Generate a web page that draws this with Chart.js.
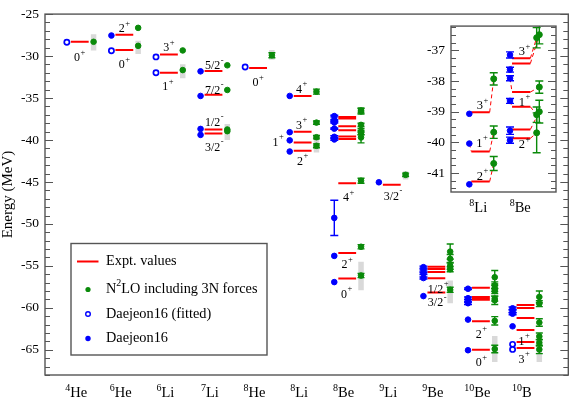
<!DOCTYPE html>
<html><head><meta charset="utf-8">
<script src="https://cdn.jsdelivr.net/npm/chart.js@4.4.1/dist/chart.umd.min.js"></script>
<style>
html,body{margin:0;padding:0;background:#fff;}
#wrap{position:relative;width:574px;height:399px;background:#fff;}
#main{position:absolute;left:0;top:0;}
#inset{position:absolute;left:400px;top:12px;}
</style></head><body>
<div id="wrap"><canvas id="main" width="574" height="399"></canvas><canvas id="inset" width="162" height="212"></canvas></div>
<script>
// ---------------- DATA ----------------
const categories = ['4He','6He','6Li','7Li','8He','8Li','8Be','9Li','9Be','10Be','10B'];
const yTickValues = [-25,-30,-35,-40,-45,-50,-55,-60,-65];
const insetCategories = ['8Li','8Be'];
const insetYTickValues = [-37,-38,-39,-40,-41];

// Experimental levels [nucleus, energy (MeV)]
const exptLevels = [
  ['4He',-28.30],
  ['6He',-27.47],['6He',-29.27],
  ['6Li',-29.80],['6Li',-31.99],
  ['7Li',-31.79],['7Li',-34.61],['7Li',-38.76],['7Li',-39.24],
  ['8He',-31.41],
  ['8Li',-34.75],['8Li',-39.02],['8Li',-40.30],['8Li',-41.28],
  ['8Be',-37.26],['8Be',-37.43],['8Be',-38.36],['8Be',-38.84],['8Be',-39.58],['8Be',-39.87],
  ['8Be',-45.15],['8Be',-53.47],['8Be',-56.50],
  ['9Li',-45.34],
  ['9Be',-55.11],['9Be',-55.38],['9Be',-55.73],['9Be',-56.48],['9Be',-58.16],
  ['10Be',-57.61],['10Be',-58.72],['10Be',-58.80],['10Be',-59.02],['10Be',-61.61],['10Be',-64.98],
  ['10B',-59.65],['10B',-60.02],['10B',-61.20],['10B',-62.65],['10B',-64.06],['10B',-64.78]
];

// N2LO including 3N forces [nucleus, energy, uncertainty]
const n2loLevels = [
  ['4He',-28.30,0],
  ['6He',-26.64,0],['6He',-28.78,0],
  ['6Li',-29.33,0],['6Li',-31.67,0],
  ['7Li',-31.10,0],['7Li',-34.04,0],['7Li',-38.75,0],['7Li',-38.95,0],
  ['8He',-29.90,0.3],
  ['8Li',-34.24,0.3],['8Li',-37.93,0.2],['8Li',-39.67,0.2],['8Li',-40.69,0.23],
  ['8Be',-36.59,0.33],['8Be',-36.49,0.3],['8Be',-38.20,0.2],['8Be',-39.10,0.25],['8Be',-39.00,0.37],['8Be',-39.69,0.65],
  ['8Be',-44.85,0.3],['8Be',-52.72,0.25],['8Be',-56.15,0.25],
  ['9Li',-44.15,0.2],
  ['9Be',-53.30,0.9],['9Be',-54.15,0.5],['9Be',-55.00,0.4],['9Be',-55.40,0.3],['9Be',-57.85,0.3],
  ['10Be',-56.35,0.8],['10Be',-57.30,0.4],['10Be',-57.70,0.35],['10Be',-58.00,0.3],['10Be',-58.90,0.3],['10Be',-59.10,0.5],
  ['10Be',-61.55,0.5],['10Be',-64.90,0.45],
  ['10B',-58.70,0.7],['10B',-59.50,0.35],['10B',-61.75,0.45],['10B',-63.40,0.4],['10B',-64.15,0.4],['10B',-64.95,0.5]
];

// N2LO extrapolation ranges (grey bands) [nucleus, upper, lower]
const n2loRanges = [
  ['4He',-27.40,-29.35],
  ['6He',-28.18,-29.74],
  ['6Li',-30.98,-32.65],
  ['7Li',-38.10,-40.00],
  ['8He',-29.28,-30.44],
  ['8Li',-39.70,-41.50],
  ['8Be',-54.52,-57.90],
  ['9Li',-43.73,-44.70],
  ['9Be',-56.74,-59.46],
  ['10Be',-63.35,-66.46],
  ['10B',-64.90,-66.46]
];

// Daejeon16 (fitted) [nucleus, energy]
const daejeonFittedLevels = [
  ['4He',-28.36],
  ['6He',-29.37],
  ['6Li',-30.10],['6Li',-31.98],
  ['8He',-31.30],
  ['10B',-64.35],['10B',-64.95]
];

// Daejeon16 [nucleus, energy, uncertainty]
const daejeonLevels = [
  ['6He',-27.55,0],
  ['7Li',-31.82,0],['7Li',-34.75,0],['7Li',-38.68,0],['7Li',-39.39,0],
  ['8Li',-34.75,0],['8Li',-39.07,0],['8Li',-40.04,0],['8Li',-41.37,0],
  ['8Be',-37.15,0.1],['8Be',-37.63,0.08],['8Be',-37.91,0.08],['8Be',-38.65,0.08],['8Be',-39.62,0.12],['8Be',-39.93,0.1],
  ['8Be',-49.28,2.1],['8Be',-53.81,0],['8Be',-56.93,0],
  ['9Li',-45.04,0],
  ['9Be',-55.15,0.12],['9Be',-55.50,0.12],['9Be',-55.90,0.12],['9Be',-56.45,0.12],['9Be',-58.60,0],
  ['10Be',-57.72,0.1],['10Be',-58.85,0.15],['10Be',-59.15,0.15],['10Be',-59.45,0.15],['10Be',-61.40,0],['10Be',-65.05,0],
  ['10B',-60.05,0.15],['10B',-60.40,0.15],['10B',-60.70,0.12],['10B',-62.20,0]
];

// State labels [nucleus, x shift, energy anchor, text, superscript]
const stateLabels = [
  ['4He',-0.07,-30.13,'0','+'],
  ['6He',-0.07,-26.71,'2','+'],['6He',-0.07,-30.98,'0','+'],
  ['6Li',-0.07,-28.96,'3','+'],['6Li',-0.09,-33.62,'1','+'],
  ['7Li',-0.03,-31.10,'5/2','-'],['7Li',-0.03,-34.00,'7/2','-'],['7Li',-0.03,-37.82,'1/2','-'],['7Li',-0.03,-40.82,'3/2','-'],
  ['8He',-0.07,-33.12,'0','+'],
  ['8Li',-0.09,-33.90,'4','+'],['8Li',-0.09,-38.17,'3','+'],['8Li',-0.62,-40.23,'1','+'],['8Li',-0.07,-42.48,'2','+'],
  ['8Be',-0.04,-46.83,'4','+'],['8Be',-0.07,-54.80,'2','+'],['8Be',-0.08,-58.30,'0','+'],
  ['9Li',-0.02,-46.64,'3/2','-'],
  ['9Be',-0.03,-57.72,'1/2','+'],['9Be',-0.03,-59.35,'3/2','-'],
  ['10Be',-0.06,-63.08,'2','+'],['10Be',-0.06,-66.46,'0','+'],
  ['10B',-0.10,-63.93,'1','+'],['10B',-0.10,-66.06,'3','+']
];
const insetLabels = [
  ['8Li',0.26,-38.78,'3','+'],['8Li',0.25,-40.01,'1','+'],['8Li',0.26,-41.08,'2','+'],
  ['8Be',0.29,-37.02,'3','+'],['8Be',0.29,-38.68,'1','+'],['8Be',0.29,-40.06,'2','+']
];
const legendItems = ['Expt. values','N2LO including 3N forces','Daejeon16 (fitted)','Daejeon16'];

// ---------------- STYLE / HELPERS ----------------
const FONT = '"Liberation Serif", "Times New Roman", serif';
const GREEN = '#0a8a0a', BLUE = '#0000ff', RED = '#ff0000', BAND = '#d9d9d9', FRAME = '#555';
const INSET_MIN = -41.62, INSET_MAX = -36.21;

const posOf = (list, n) => list.indexOf(n) + 1;
function segs(pieces) {
  const out = [];
  pieces.forEach(pc => { out.push(...pc); out.push({x: pc[0].x, y: null}); });
  return out;
}
const lineDs = (data, color, width, order, dash) => ({
  data, showLine: true, borderColor: color, borderWidth: width, pointRadius: 0,
  spanGaps: false, order, borderDash: dash || [], borderCapStyle: 'butt', fill: false, tension: 0
});
const pointDs = (data, o) => Object.assign({
  data, showLine: false, pointStyle: 'circle', pointRadius: 2.8, pointBorderWidth: 1, order: 1
}, o);

function drawSup(ctx, cx, cy, base, sup, bs, ss, rise) {
  ctx.font = bs + 'px ' + FONT; const wb = ctx.measureText(base).width;
  const x0 = cx - wb / 2, by = cy + bs * 0.33;
  ctx.textAlign = 'left'; ctx.textBaseline = 'alphabetic';
  ctx.fillText(base, x0, by);
  ctx.font = ss + 'px ' + FONT; ctx.fillText(sup, x0 + wb + 0.5, by - rise);
}
function drawPre(ctx, cx, by, sup, base, bs, ss, rise) {
  ctx.font = ss + 'px ' + FONT; const ws = ctx.measureText(sup).width;
  ctx.font = bs + 'px ' + FONT; const wb = ctx.measureText(base).width;
  const x0 = cx - (ws + wb) / 2;
  ctx.textAlign = 'left'; ctx.textBaseline = 'alphabetic';
  ctx.font = ss + 'px ' + FONT; ctx.fillText(sup, x0, by - rise);
  ctx.font = bs + 'px ' + FONT; ctx.fillText(base, x0 + ws, by);
}
const splitNuc = s => { const m = s.match(/^(\d+)(\D+)$/); return [m[1], m[2]]; };

const errorBarPlugin = {
  id: 'errbars',
  beforeDatasetDraw(chart, args) {
    const ds = chart.data.datasets[args.index];
    if (!ds.errors) return;
    const {ctx, chartArea: a} = chart, y = chart.scales.y;
    ctx.save();
    ctx.beginPath(); ctx.rect(a.left, a.top, a.right - a.left, a.bottom - a.top); ctx.clip();
    ctx.strokeStyle = ds.errColor; ctx.lineWidth = 1.4;
    ds.data.forEach((p, i) => {
      const e = ds.errors[i]; if (!e) return;
      const px = args.meta.data[i].x;
      const y1 = y.getPixelForValue(p.y + e), y2 = y.getPixelForValue(p.y - e), h = ds.capHalf;
      ctx.beginPath();
      ctx.moveTo(px, y1); ctx.lineTo(px, y2);
      ctx.moveTo(px - h, y1); ctx.lineTo(px + h, y1);
      ctx.moveTo(px - h, y2); ctx.lineTo(px + h, y2);
      ctx.stroke();
    });
    ctx.restore();
  }
};

const framePlugin = {
  id: 'frame',
  afterDraw(chart, args, o) {
    const {ctx, chartArea: a} = chart, y = chart.scales.y;
    ctx.save();
    ctx.strokeStyle = FRAME; ctx.lineWidth = 1.4;
    ctx.strokeRect(a.left, a.top, a.right - a.left, a.bottom - a.top);
    ctx.lineWidth = 1;
    const k0 = Math.ceil(y.min / o.minor - 1e-9), k1 = Math.floor(y.max / o.minor + 1e-9);
    for (let k = k0; k <= k1; k++) {
      const v = k * o.minor;
      const isMajor = Math.abs(v / o.major - Math.round(v / o.major)) < 1e-6;
      const len = isMajor ? 8 : 5;
      const py = Math.round(y.getPixelForValue(v)) + 0.5;
      ctx.beginPath();
      ctx.moveTo(a.left, py); ctx.lineTo(a.left + len, py);
      ctx.moveTo(a.right, py); ctx.lineTo(a.right - len, py);
      ctx.stroke();
    }
    ctx.restore();
  }
};

// ---------------- MAIN CHART ----------------
const mainBands = segs(n2loRanges.map(([n, hi, lo]) => {
  const p = posOf(categories, n) + 0.3; return [{x: p, y: hi}, {x: p, y: lo}];
}));
const mainExpt = segs(exptLevels.map(([n, e]) => {
  const p = posOf(categories, n); return [{x: p - 0.21, y: e}, {x: p + 0.19, y: e}];
}));
const mainN2lo = n2loLevels.map(([n, e]) => ({x: posOf(categories, n) + 0.3, y: e}));
const mainFitted = daejeonFittedLevels.map(([n, e]) => ({x: posOf(categories, n) - 0.3, y: e}));
const mainDaejeon = daejeonLevels.map(([n, e]) => ({x: posOf(categories, n) - 0.3, y: e}));

const mainText = {
  id: 'mainText',
  afterDraw(chart) {
    const {ctx, chartArea: a} = chart, xs = chart.scales.x, ys = chart.scales.y;
    ctx.save(); ctx.fillStyle = '#000';
    stateLabels.forEach(([n, dx, e, b, s]) => {
      drawSup(ctx, xs.getPixelForValue(posOf(categories, n) + dx), ys.getPixelForValue(e), b, s, 12, 8.5, 6.5);
    });
    categories.forEach((c, i) => {
      const [sup, base] = splitNuc(c);
      drawPre(ctx, xs.getPixelForValue(i + 1 - 0.09), a.bottom + 21.5, sup, base, 14.5, 10, 6);
    });
    // legend
    const L = 71, T = 243.5, W = 196, H = 111.5;
    ctx.fillStyle = '#fff'; ctx.fillRect(L, T, W, H);
    ctx.strokeStyle = FRAME; ctx.lineWidth = 1.4; ctx.strokeRect(L, T, W, H);
    const rows = [261.5, 289.5, 314, 338.5], tx = 106, sx = 88;
    ctx.strokeStyle = RED; ctx.lineWidth = 2;
    ctx.beginPath(); ctx.moveTo(77, rows[0]); ctx.lineTo(98.5, rows[0]); ctx.stroke();
    ctx.fillStyle = GREEN; ctx.beginPath(); ctx.arc(sx, rows[1], 2.6, 0, 2 * Math.PI); ctx.fill();
    ctx.strokeStyle = BLUE; ctx.lineWidth = 1.4; ctx.fillStyle = '#fff';
    ctx.beginPath(); ctx.arc(sx, rows[2], 2.3, 0, 2 * Math.PI); ctx.fill(); ctx.stroke();
    ctx.fillStyle = BLUE; ctx.beginPath(); ctx.arc(sx, rows[3], 2.7, 0, 2 * Math.PI); ctx.fill();
    ctx.fillStyle = '#000'; ctx.textAlign = 'left'; ctx.textBaseline = 'middle';
    const fs = 14.3;
    ctx.font = fs + 'px ' + FONT;
    ctx.fillText(legendItems[0], tx, rows[0]);
    // N^2LO with superscript
    const t1 = legendItems[1];
    ctx.fillText(t1[0], tx, rows[1]);
    const wN = ctx.measureText(t1[0]).width;
    ctx.font = '10px ' + FONT; ctx.fillText(t1[1], tx + wN, rows[1] - 6);
    const w2 = ctx.measureText(t1[1]).width;
    ctx.font = fs + 'px ' + FONT; ctx.fillText(t1.slice(2), tx + wN + w2, rows[1]);
    ctx.fillText(legendItems[2], tx, rows[2]);
    ctx.fillText(legendItems[3], tx, rows[3]);
    ctx.restore();
  }
};

new Chart(document.getElementById('main'), {
  type: 'line',
  data: { datasets: [
    lineDs(mainBands, BAND, 5.5, 10),
    lineDs(mainExpt, RED, 2, 5),
    pointDs(mainN2lo, {backgroundColor: GREEN, borderColor: GREEN, pointRadius: 2.8, order: 3,
      errors: n2loLevels.map(l => l[2]), errColor: GREEN, capHalf: 3.5}),
    pointDs(mainFitted, {backgroundColor: '#fff', borderColor: BLUE, pointRadius: 2.6, pointBorderWidth: 1.7, order: 2}),
    pointDs(mainDaejeon, {backgroundColor: BLUE, borderColor: BLUE, pointRadius: 2.8, order: 1,
      errors: daejeonLevels.map(l => l[2]), errColor: BLUE, capHalf: 4})
  ]},
  options: {
    responsive: false, animation: false, events: [],
    layout: { padding: {left: 0, top: 6, right: 3, bottom: 0} },
    plugins: { legend: {display: false}, tooltip: {enabled: false}, frame: {minor: 1, major: 5} },
    scales: {
      x: { type: 'linear', min: 0.21, max: 11.95, grid: {display: false, drawTicks: false, tickLength: 0},
           border: {display: false}, ticks: {display: false}, afterFit: s => { s.height = 24; } },
      y: { type: 'linear', min: -68, max: -25, grid: {display: false, drawTicks: false, tickLength: 0},
           border: {display: false},
           ticks: {color: '#000', font: {family: FONT, size: 13.5}, padding: 6},
           afterBuildTicks: s => { s.ticks = yTickValues.map(v => ({value: v})); },
           afterFit: s => { s.width = 45; },
           title: {display: true, text: 'Energy (MeV)', color: '#000', font: {family: FONT, size: 15, lineHeight: 1.1}, padding: 0} }
    }
  },
  plugins: [errorBarPlugin, framePlugin, mainText]
});

// ---------------- INSET CHART ----------------
const inR = e => e <= INSET_MAX && e >= INSET_MIN;
const insetRed = [], insetDash = [], insetGreen = [], insetGreenErr = [], insetBlue = [], insetBlueErr = [];
insetCategories.forEach((n, k) => {
  const p = k + 1;
  const b = daejeonLevels.filter(l => l[0] === n && inR(l[1]));
  const r = exptLevels.filter(l => l[0] === n && inR(l[1]));
  const g = n2loLevels.filter(l => l[0] === n && inR(l[1]));
  const gOff = n === '8Be' ? [0.655, 0.72, 0.72, 0.655, 0.72, 0.655] : [0.6, 0.6, 0.6];
  r.forEach((lv, i) => {
    const er = lv[1];
    insetRed.push([{x: p + 0.05, y: er}, {x: p + 0.5, y: er}]);
    if (b[i]) insetDash.push([{x: p, y: b[i][1]}, {x: p + 0.05, y: er}]);
    if (g[i]) insetDash.push([{x: p + 0.5, y: er}, {x: p + gOff[i], y: g[i][1]}]);
  });
  b.forEach(l => { insetBlue.push({x: p, y: l[1]}); insetBlueErr.push(l[2]); });
  g.forEach((l, i) => { insetGreen.push({x: p + gOff[i], y: l[1]}); insetGreenErr.push(l[2]); });
});

const insetText = {
  id: 'insetText',
  afterDraw(chart) {
    const {ctx, chartArea: a} = chart, xs = chart.scales.x, ys = chart.scales.y;
    ctx.save(); ctx.fillStyle = '#000';
    insetLabels.forEach(([n, dx, e, b, s]) => {
      drawSup(ctx, xs.getPixelForValue(posOf(insetCategories, n) + dx), ys.getPixelForValue(e), b, s, 12.5, 8.5, 6.5);
    });
    insetCategories.forEach((c, i) => {
      const [sup, base] = splitNuc(c);
      drawPre(ctx, xs.getPixelForValue(i + 1 + (i === 0 ? 0.22 : 0.25)), a.bottom + 20, sup, base, 14.5, 10, 6);
    });
    ctx.restore();
  }
};

new Chart(document.getElementById('inset'), {
  type: 'line',
  data: { datasets: [
    lineDs(segs(insetDash), RED, 1, 6, [4, 3]),
    lineDs(segs(insetRed), RED, 2, 5),
    pointDs(insetGreen, {backgroundColor: GREEN, borderColor: GREEN, pointRadius: 3, order: 3,
      errors: insetGreenErr, errColor: GREEN, capHalf: 4}),
    pointDs(insetBlue, {backgroundColor: BLUE, borderColor: BLUE, pointRadius: 2.8, order: 1,
      errors: insetBlueErr, errColor: BLUE, capHalf: 4})
  ]},
  options: {
    responsive: false, animation: false, events: [],
    layout: { padding: {left: 0, top: 11, right: 6, bottom: 0} },
    plugins: { legend: {display: false}, tooltip: {enabled: false}, frame: {minor: 0.25, major: 1} },
    scales: {
      x: { type: 'linear', min: 0.55, max: 3.13, grid: {display: false, drawTicks: false, tickLength: 0},
           border: {display: false}, ticks: {display: false}, afterFit: s => { s.height = 32; } },
      y: { type: 'linear', min: INSET_MIN, max: INSET_MAX, grid: {display: false, drawTicks: false, tickLength: 0},
           border: {display: false},
           ticks: {color: '#000', font: {family: FONT, size: 13.5}, padding: 6},
           afterBuildTicks: s => { s.ticks = insetYTickValues.map(v => ({value: v})); },
           afterFit: s => { s.width = 51; } }
    }
  },
  plugins: [errorBarPlugin, framePlugin, insetText]
});
</script>
</body></html>
